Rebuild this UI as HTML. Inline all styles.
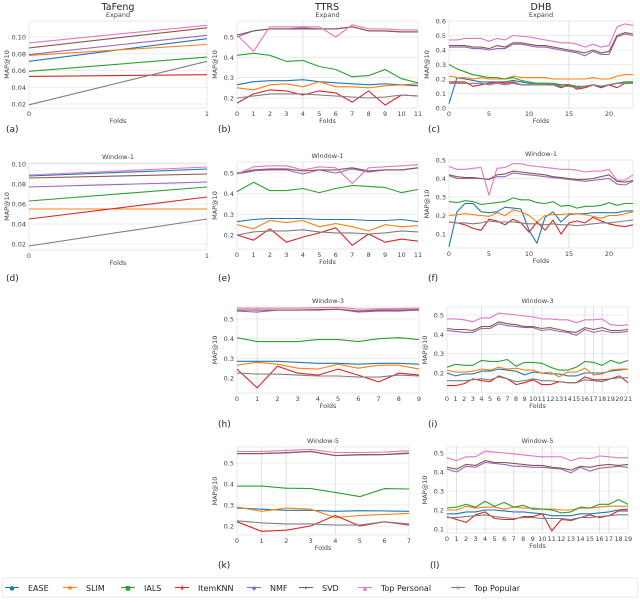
<!DOCTYPE html>
<html><head><meta charset="utf-8"><style>
body{margin:0;background:#fff;width:640px;height:598px;overflow:hidden;font-family:"Liberation Sans","DejaVu Sans",sans-serif}
svg text{font-family:"DejaVu Sans","Liberation Sans",sans-serif}
</style></head><body>
<svg id="chart" width="640" height="598" viewBox="0 0 640 598"></svg>
<script>
const methods = ["EASE","SLIM","IALS","ItemKNN","NMF","SVD","Top Personal","Top Popular"];
const colors = ["#1f77b4","#ff7f0e","#2ca02c","#d62728","#9467bd","#8c564b","#e377c2","#7f7f7f"];
const dataA = [[.071,.098],[.078,.091],[.059,.076],[.053,.055],[.079,.102],[.087,.111],[.093,.114],[.019,.071]];
const dataD = [[.088,.095],[.055,.055],[.063,.077],[.045,.067],[.077,.082],[.086,.090],[.089,.097],[.018,.045]];
const dataB = [
[.265,.28,.285,.285,.29,.28,.275,.27,.265,.27,.265,.26],
[.25,.24,.265,.27,.255,.28,.255,.255,.25,.26,.265,.27],
[.41,.42,.41,.38,.385,.355,.34,.305,.31,.34,.295,.275],
[.175,.22,.24,.235,.215,.235,.225,.18,.235,.165,.215,.21],
[.50,.53,.54,.54,.545,.54,.54,.55,.53,.53,.525,.525],
[.51,.53,.54,.54,.54,.54,.54,.55,.53,.53,.525,.525],
[.51,.43,.55,.55,.55,.55,.50,.56,.54,.54,.535,.535],
[.20,.21,.22,.22,.22,.215,.21,.205,.20,.205,.215,.21]];
const dataE = [
[.265,.275,.28,.28,.28,.275,.275,.275,.27,.27,.275,.265],
[.25,.23,.27,.26,.27,.24,.255,.24,.22,.25,.24,.245],
[.41,.455,.415,.415,.425,.405,.425,.44,.435,.43,.405,.42],
[.20,.175,.23,.165,.19,.21,.235,.15,.205,.165,.18,.17],
[.495,.51,.515,.515,.495,.515,.50,.52,.505,.515,.515,.525],
[.50,.515,.52,.52,.51,.515,.515,.525,.51,.515,.515,.525],
[.495,.53,.535,.535,.515,.53,.525,.45,.525,.53,.535,.54],
[.20,.215,.22,.22,.225,.215,.21,.21,.205,.21,.22,.215]];
const dataH = [
[.285,.285,.285,.28,.275,.275,.27,.275,.275,.27],
[.265,.28,.27,.25,.245,.27,.25,.265,.265,.245],
[.405,.385,.385,.385,.395,.395,.385,.40,.405,.395],
[.245,.15,.26,.225,.215,.245,.215,.18,.225,.215],
[.54,.535,.545,.545,.545,.55,.535,.54,.54,.545],
[.545,.545,.545,.545,.548,.55,.54,.545,.545,.548],
[.555,.555,.555,.555,.557,.56,.55,.552,.553,.555],
[.225,.22,.22,.215,.21,.21,.205,.205,.215,.21]];
const dataK = [
[.285,.28,.275,.275,.27,.273,.272,.27],
[.29,.27,.285,.28,.24,.25,.255,.26],
[.39,.39,.38,.378,.36,.34,.378,.376],
[.22,.175,.18,.20,.25,.20,.22,.205],
[.545,.545,.548,.555,.535,.538,.54,.545],
[.545,.545,.55,.555,.535,.54,.54,.548],
[.555,.555,.56,.565,.55,.55,.552,.558],
[.225,.215,.21,.21,.205,.205,.22,.21]];
const dataC = [
[.03,.21,.20,.19,.18,.18,.18,.18,.19,.18,.17,.17,.17,.16,.16,.16,.14,.15,.16,.15,.16,.17,.18,.18],
[.22,.21,.21,.20,.21,.20,.20,.20,.22,.21,.21,.21,.21,.20,.20,.20,.20,.20,.21,.20,.20,.22,.23,.23],
[.30,.27,.25,.23,.22,.21,.21,.20,.21,.19,.18,.17,.17,.17,.16,.16,.15,.15,.16,.15,.16,.17,.18,.18],
[.18,.18,.18,.15,.16,.17,.18,.17,.18,.16,.16,.16,.16,.16,.14,.16,.13,.14,.16,.14,.16,.14,.17,.17],
[.42,.42,.42,.41,.41,.40,.41,.41,.44,.44,.43,.42,.42,.41,.40,.39,.38,.36,.39,.37,.37,.49,.51,.50],
[.43,.43,.43,.42,.42,.41,.43,.42,.45,.45,.44,.43,.43,.42,.41,.40,.39,.38,.40,.38,.39,.50,.52,.51],
[.47,.47,.48,.48,.48,.46,.48,.47,.50,.495,.49,.48,.47,.46,.45,.45,.44,.42,.44,.42,.43,.56,.58,.57],
[.17,.17,.17,.17,.17,.16,.17,.16,.17,.16,.16,.16,.16,.16,.15,.15,.14,.15,.16,.15,.16,.17,.17,.17]];
const dataF = [
[.03,.22,.265,.265,.22,.215,.22,.245,.24,.235,.12,.05,.19,.22,.165,.205,.21,.21,.215,.215,.215,.215,.225,.225],
[.20,.205,.21,.205,.20,.195,.215,.20,.23,.22,.20,.165,.20,.205,.205,.21,.21,.205,.195,.185,.20,.20,.21,.22],
[.275,.27,.28,.275,.26,.265,.27,.275,.295,.285,.285,.27,.265,.275,.25,.255,.24,.25,.25,.255,.27,.255,.265,.265],
[.165,.16,.15,.13,.12,.18,.17,.15,.18,.16,.11,.165,.12,.175,.10,.16,.17,.16,.19,.17,.155,.145,.14,.15],
[.415,.40,.40,.40,.40,.395,.41,.41,.43,.425,.42,.415,.41,.405,.40,.395,.39,.385,.39,.395,.40,.37,.365,.385],
[.42,.41,.405,.405,.40,.395,.42,.425,.44,.435,.43,.425,.42,.41,.405,.40,.395,.395,.40,.41,.42,.385,.38,.39],
[.465,.45,.45,.455,.46,.31,.455,.46,.48,.48,.47,.465,.46,.455,.45,.45,.445,.435,.44,.44,.45,.39,.39,.42],
[.165,.16,.16,.155,.16,.17,.165,.165,.165,.16,.155,.155,.15,.155,.15,.15,.145,.15,.155,.16,.16,.165,.17,.175]];
const dataI = [
[.20,.185,.195,.195,.21,.21,.22,.215,.21,.19,.205,.2,.195,.195,.185,.185,.2,.2,.2,.21,.215,.22],
[.215,.205,.205,.21,.22,.215,.23,.22,.225,.215,.215,.20,.205,.18,.205,.205,.225,.19,.195,.215,.22,.22],
[.23,.245,.24,.24,.265,.26,.26,.27,.235,.255,.255,.25,.23,.215,.215,.23,.26,.255,.24,.265,.25,.265],
[.135,.135,.145,.17,.16,.155,.185,.17,.14,.15,.165,.14,.14,.155,.15,.15,.18,.165,.165,.17,.185,.15],
[.42,.415,.41,.41,.43,.43,.455,.445,.44,.435,.435,.42,.425,.415,.41,.395,.425,.41,.42,.41,.41,.415],
[.43,.425,.425,.42,.44,.44,.465,.455,.45,.44,.44,.43,.435,.425,.415,.41,.435,.425,.435,.42,.42,.425],
[.48,.48,.475,.465,.485,.485,.51,.505,.50,.495,.49,.48,.48,.475,.475,.46,.475,.475,.48,.45,.445,.45],
[.16,.16,.16,.165,.17,.165,.18,.17,.155,.16,.17,.16,.16,.155,.15,.15,.165,.16,.155,.17,.175,.175]];
const dataL = [
[.18,.18,.19,.19,.20,.20,.195,.19,.19,.185,.18,.17,.17,.17,.18,.18,.185,.19,.20,.205],
[.20,.20,.22,.21,.215,.215,.205,.215,.21,.21,.205,.205,.20,.20,.21,.21,.215,.22,.22,.22],
[.21,.215,.23,.215,.245,.22,.24,.215,.225,.205,.205,.20,.185,.19,.215,.21,.23,.23,.255,.23],
[.165,.15,.135,.175,.19,.155,.15,.15,.165,.165,.18,.09,.15,.145,.16,.175,.16,.17,.195,.195],
[.415,.40,.43,.425,.45,.445,.44,.43,.43,.425,.425,.42,.415,.395,.425,.405,.42,.425,.43,.425],
[.425,.415,.44,.435,.46,.45,.45,.445,.44,.435,.435,.425,.42,.41,.43,.425,.435,.44,.435,.44],
[.475,.46,.48,.48,.51,.505,.50,.495,.49,.485,.48,.48,.48,.46,.475,.47,.485,.48,.475,.475],
[.16,.16,.165,.17,.175,.165,.16,.155,.16,.16,.155,.155,.155,.15,.16,.16,.165,.17,.175,.175]];
const tafengTicks = [0.02,0.04,0.06,0.08,0.10];
const ttrsTicks = [0.2,0.3,0.4,0.5];
const dhbExpandTicks = [0,0.1,0.2,0.3,0.4,0.5,0.6];
const dhbTicks = [0.1,0.2,0.3,0.4,0.5];

const NS="http://www.w3.org/2000/svg";
const svg=document.getElementById('chart');
function mk(tag,attrs,parent,txt){const e=document.createElementNS(NS,tag);for(const k in attrs)e.setAttribute(k,attrs[k]);if(txt!==undefined)e.textContent=txt;(parent||svg).appendChild(e);return e;}

const panels=[
{id:'a',data:dataA,L:29,R:207,T:21,B:108,c:[0.10,37,0.02,104],yt:tafengTicks,fmt:2,xt:[0,1],xmax:1,vl:[],title:'Expand',lab:[6,132]},
{id:'b',data:dataB,L:237,R:418,T:21,B:108,c:[0.5,37,0.2,98],yt:ttrsTicks,fmt:1,xt:[0,1,2,3,4,5,6,7,8,9,10,11],xmax:11,vl:[4],title:'Expand',lab:[218,132]},
{id:'c',data:dataC,L:449,R:633,T:21,B:108,c:[0.6,21,0.0,108],yt:dhbExpandTicks,fmt:1,xt:[0,5,10,15,20],xmax:23,vl:[15],title:'Expand',lab:[428,132]},
{id:'d',data:dataD,L:29,R:207,T:163,B:250,c:[0.10,164,0.02,244],yt:tafengTicks,fmt:2,xt:[0,1],xmax:1,vl:[],title:'Window-1',lab:[6,281]},
{id:'e',data:dataE,L:237,R:418,T:162,B:249,c:[0.5,173,0.2,235],yt:ttrsTicks,fmt:1,xt:[0,1,2,3,4,5,6,7,8,9,10,11],xmax:11,vl:[4],title:'Window-1',lab:[218,281]},
{id:'f',data:dataF,L:449,R:633,T:160,B:248,c:[0.5,160,0.1,234],yt:dhbTicks,fmt:1,xt:[0,5,10,15,20],xmax:23,vl:[15],title:'Window-1',lab:[428,281]},
{id:'h',data:dataH,L:237,R:419,T:307,B:393,c:[0.5,319,0.2,378],yt:ttrsTicks,fmt:1,xt:[0,1,2,3,4,5,6,7,8,9],xmax:9,vl:[1],title:'Window-3',lab:[218,427]},
{id:'i',data:dataI,L:447,R:628,T:307,B:393,c:[0.5,315,0.2,373],yt:[0.2,0.3,0.4,0.5],fmt:1,xt:[...Array(22).keys()],xmax:21,vl:[4,10,11,16,17,18],title:'Window-3',lab:[428,427]},
{id:'k',data:dataK,L:237,R:409,T:447,B:535,c:[0.5,463,0.2,526],yt:ttrsTicks,fmt:1,xt:[0,1,2,3,4,5,6,7],xmax:7,vl:[1,2,4],title:'Window-5',lab:[218,568]},
{id:'l',data:dataL,L:447,R:628,T:447,B:533,c:[0.5,453,0.1,529],yt:dhbTicks,fmt:1,xt:[...Array(20).keys()],xmax:19,vl:[1,4,7,10,11,16,17],title:'Window-5',lab:[430,568]}
];

[['TaFeng',118],['TTRS',327],['DHB',541]].forEach(([t,x])=>{
  const e=mk('text',{x:x,y:10,'text-anchor':'middle','font-size':'9.5',fill:'#222'},svg,t);
  
  
});

panels.forEach(p=>{
  const g=mk('g',{});
  
  
  const ys=v=>p.c[1]+(v-p.c[0])*(p.c[3]-p.c[1])/(p.c[2]-p.c[0]);
  const xs=i=>p.L+i*(p.R-p.L)/p.xmax;
  const bg=mk('rect',{x:p.L,y:p.T,width:p.R-p.L,height:p.B-p.T,fill:'#fff',stroke:'#e4e4e4','stroke-width':0.8},g);
  
  
  p.yt.forEach(t=>{
    const y=ys(t);
    const gl=mk('line',{x1:p.L,x2:p.R,y1:y,y2:y,stroke:'#e6e6e6','stroke-width':0.8},g);
    
    
    const tl=mk('text',{x:p.L-3,y:y+2.5,'text-anchor':'end','font-size':'6.5',fill:'#444'},g,t.toFixed(p.fmt));
    
    
  });
  p.vl.forEach(v=>{
    const vl=mk('line',{x1:xs(v),x2:xs(v),y1:p.T,y2:p.B,stroke:'#dcdcdc','stroke-width':0.9},g);
    
    
  });
  p.xt.forEach(t=>{
    const xl=mk('text',{x:xs(t),y:p.B+8,'text-anchor':'middle','font-size':'6.5',fill:'#444'},g,String(t));
    
    
  });
  const xt=mk('text',{x:(p.L+p.R)/2,y:p.B+15,'text-anchor':'middle','font-size':'6.5',fill:'#444'},g,'Folds');
  
  
  const yc=(p.T+p.B)/2, yx=p.L-20;
  const yt=mk('text',{x:yx,y:yc,'text-anchor':'middle','font-size':'6.5',fill:'#444',transform:`rotate(-90 ${yx} ${yc})`},g,'MAP@10');
  
  
  const st=mk('text',{x:(p.L+p.R)/2,y:p.T-4,'text-anchor':'middle','font-size':'6.5',fill:'#444'},g,p.title);
  
  
  const lb=mk('text',{x:p.lab[0],y:p.lab[1],'font-size':'9','font-family':'Liberation Serif,serif',fill:'#222'},g,'('+p.id+')');
  
  
  p.data.forEach((s,si)=>{
    const pts=s.map((v,i)=>xs(i).toFixed(1)+','+ys(v).toFixed(1)).join(' ');
    const pl=mk('polyline',{points:pts,fill:'none',stroke:colors[si],'stroke-width':1.1,'stroke-linejoin':'round'},g);
    
    
  });
});

const lg=mk('g',{});


const lbox=mk('rect',{x:2,y:578,width:636,height:19,rx:2,fill:'#fff',stroke:'#e0e0e0','stroke-width':0.8},lg);


const lx=[12,70,128,182,254,306,365,458];
const markers=['●','✖','■','✚','◆','✦','▲','×'];
methods.forEach((m,i)=>{
  const x=lx[i];
  const ln=mk('line',{x1:x-7,x2:x+7,y1:587.5,y2:587.5,stroke:colors[i],'stroke-width':1},lg);
  
  
  const mkr=mk('text',{x:x,y:590,'text-anchor':'middle','font-size':'6',fill:colors[i]},lg,markers[i]);
  
  
  const tx=mk('text',{x:x+16,y:591,'font-size':'8',fill:'#222'},lg,m);
  
  
});
</script>
</body></html>
